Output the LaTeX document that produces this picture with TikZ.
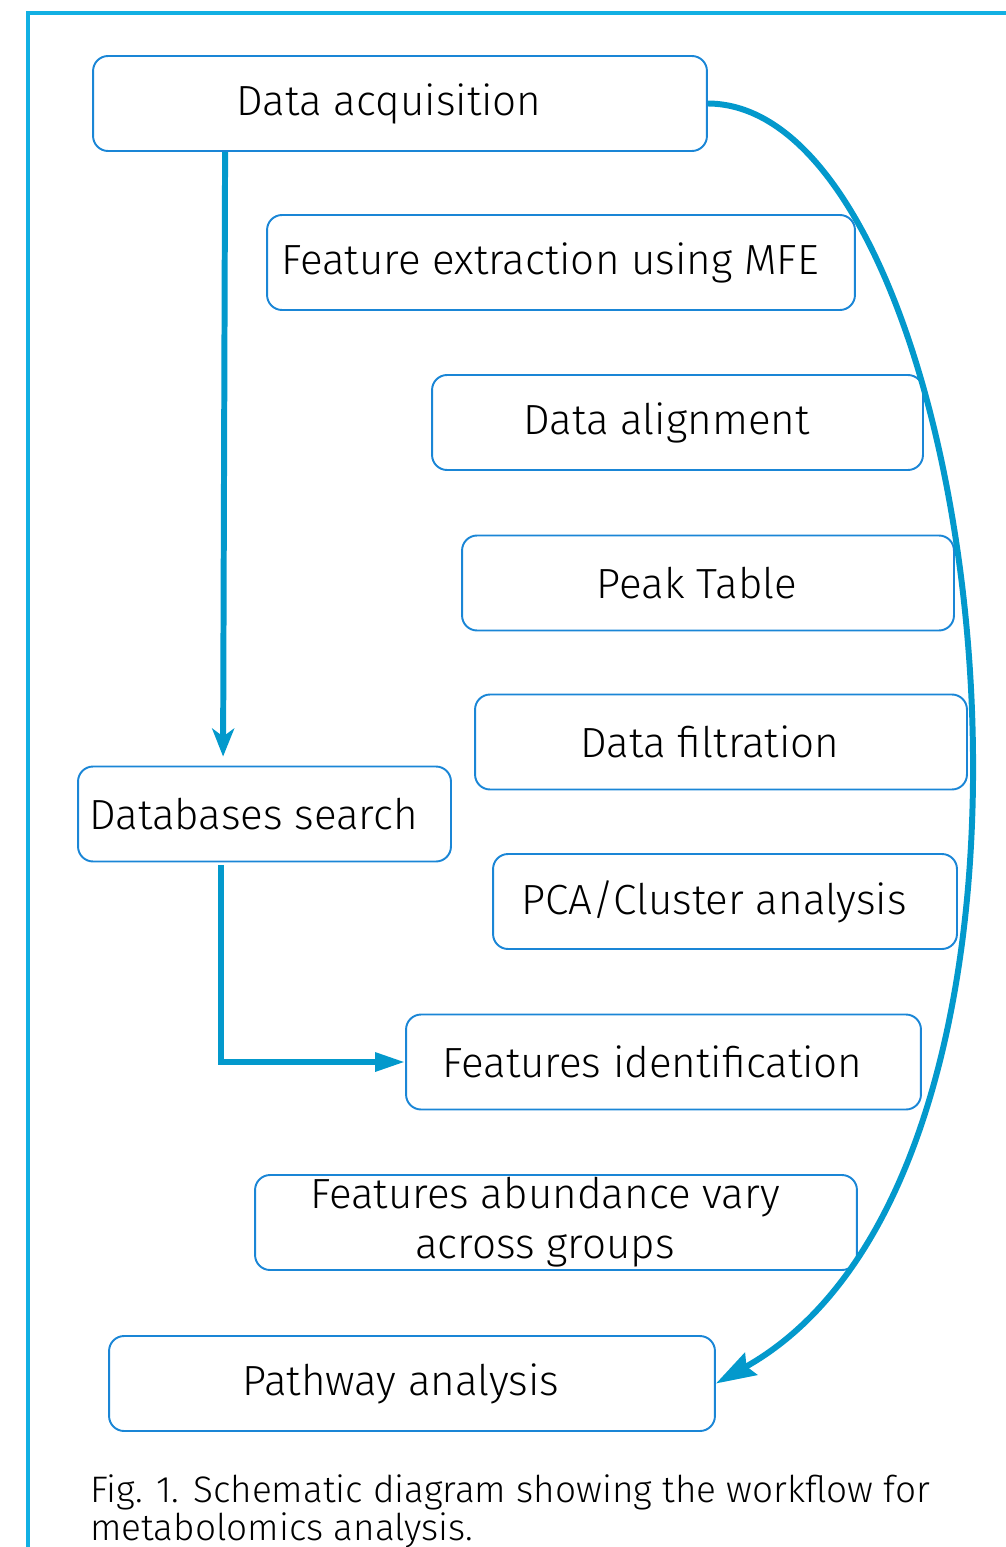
\documentclass[tikz,border=0pt]{standalone}
\usepackage{fontspec}
\setmainfont{Fira Sans Light}
\usepackage{xcolor}
\usetikzlibrary{arrows.meta,calc}
\definecolor{framecyan}{HTML}{12B0E3}
\definecolor{arrowblue}{HTML}{0399CC}
\definecolor{boxblue}{HTML}{1A86D6}
\tikzset{stepbox/.style={
    draw=boxblue, line width=1.1pt,
    rounded corners=0.3cm,
    minimum height=1.9cm, minimum width=#1,
    inner sep=0pt,
    font=\fontsize{24}{28.5}\selectfont,
    execute at end node={\hspace*{4.4mm}}
  },
  flow/.style={
    draw=arrowblue, line width=3.4pt
  }
}

\begin{document}
\begin{tikzpicture}[x=0.02cm,y=-0.02cm]
      \clip (0,0) rectangle (1006,1547);
      \draw[framecyan, line width=2.6pt] (28,1560) |- (1020,13);
      \node[stepbox=12.28cm] (acq) at (400,103.5) {Data acquisition};
      \node[stepbox=11.76cm] (mfe) at (561,262.5) {Feature extraction using MFE};
      \node[stepbox=9.82cm] (align) at (677.5,422.5) {Data alignment};
      \node[stepbox=9.84cm] (peak) at (708,583) {Peak Table};
      \node[stepbox=9.84cm] (filt) at (721,742) {Data filtration};
      \node[stepbox=7.46cm] (db) at (264.5,814) {Databases search};
      \node[stepbox=9.28cm] (pca) at (725,901.5) {PCA/Cluster analysis};
      \node[stepbox=10.3cm] (ident) at (663.5,1062) {Features identification};
      \node[stepbox=12.04cm, align=center] (abund) at (556,1222.5)
      {Features abundance vary\\across groups};
      \node[stepbox=12.12cm] (path) at (412,1383.5) {Pathway analysis};
      \node[anchor=base west, align=left, inner sep=0pt,
      font=\fontsize{21}{21.6}\selectfont] (cap) at (90,1540)
      {Fig. 1. Schematic diagram showing the workflow for\\metabolomics analysis.};
      % connectors
      \draw[flow,-{Stealth[length=5.6mm,width=4.4mm,inset=1.6mm]}]
      ($(acq.south west)+(133,0)$) -- ($(db.north west)+(146,-9)$);
      \draw[flow,-{Triangle[length=6mm,width=3.6mm]}]
      ($(db.south west)+(144,3)$) |- (ident.west);
      \draw[flow,-{Stealth[length=8mm,width=5mm,inset=1mm]}]
      (acq.east) .. controls (985,105) and (1115,1160) .. (path.east);
\end{tikzpicture}
\end{document}
